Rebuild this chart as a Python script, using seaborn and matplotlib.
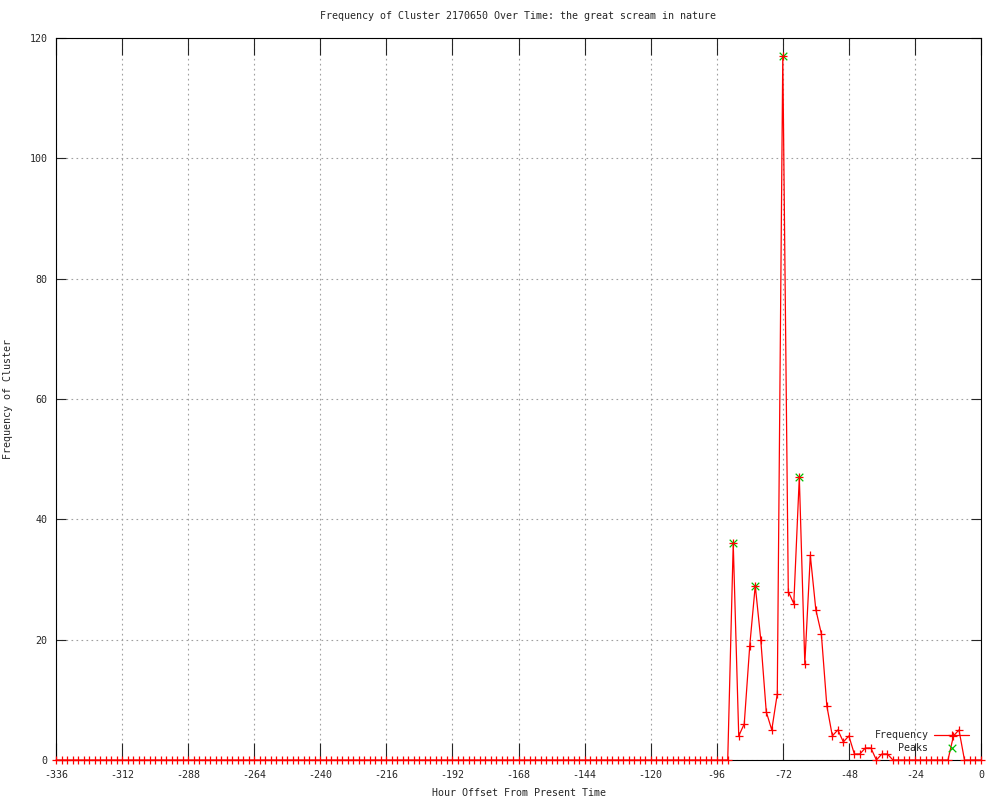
import numpy as np
import pandas as pd
import matplotlib
matplotlib.use('Agg')
import matplotlib.pyplot as plt
import seaborn as sns

# hours from -336 to 0, one point every 2 hours
hours = list(range(-336, 1, 2))

# non-zero frequency values (all other hours are 0)
active_hours = [-90, -88, -86, -84, -82, -80, -78, -76, -74, -72, -70, -68, -66,
                -64, -62, -60, -58, -56, -54, -52, -50, -48, -46, -44, -42, -40,
                -38, -36, -34, -10, -8]
active_freq = [36, 4, 6, 19, 29, 20, 8, 5, 11, 117, 28, 26, 47,
               16, 34, 25, 21, 9, 4, 5, 3, 4, 1, 1, 2, 2,
               0, 1, 1, 4, 5]

peak_hours = [-90, -82, -72, -66]
peak_freq = [36, 29, 117, 47]

lookup = dict(zip(active_hours, active_freq))
freq = [lookup.get(h, 0) for h in hours]
df = pd.DataFrame({'hour': hours, 'freq': freq})
peaks = pd.DataFrame({'hour': peak_hours, 'freq': peak_freq})

sns.set_style('white')
plt.rcParams['font.family'] = ['DejaVu Sans Mono']
plt.rcParams['axes.unicode_minus'] = False
FS = 7.2

fig = plt.figure(figsize=(10, 8), dpi=100)
ax = fig.add_axes([0.056, 0.05, 0.925, 0.9025])

# peaks underneath, frequency line on top
sns.scatterplot(data=peaks, x='hour', y='freq', marker='x', color='#00c000',
                edgecolor='#00c000', s=30, linewidth=0.9, ax=ax, label='Peaks',
                zorder=3, clip_on=False)
sns.lineplot(data=df, x='hour', y='freq', color='red', marker='+',
             markersize=6, markeredgewidth=0.9, markeredgecolor='red',
             linewidth=0.9, ax=ax, label='Frequency', zorder=4, clip_on=False)

ax.set_xlim(-336, 0)
ax.set_ylim(0, 120)
ax.set_xticks(range(-336, 1, 24))
ax.set_yticks(range(0, 121, 20))
ax.grid(True, color='#a0a0a0', linestyle=(0, (1.5, 3)), linewidth=0.8)
ax.tick_params(axis='x', direction='in', length=12, width=0.8, labelsize=FS,
               pad=7, top=True, bottom=True)
ax.tick_params(axis='y', direction='in', length=7, width=0.8, labelsize=FS,
               pad=6, left=True, right=True)
for s in ax.spines.values():
    s.set_color('black')
    s.set_linewidth(0.8)
    s.set_zorder(2.5)

ax.set_title('Frequency of Cluster 2170650 Over Time: the great scream in nature',
             fontsize=FS, pad=14)
ax.set_xlabel('Hour Offset From Present Time', fontsize=FS, labelpad=6)
ax.set_ylabel('Frequency of Cluster', fontsize=FS, labelpad=8)
ax.yaxis.set_label_coords(-0.046, 0.5)

# legend: text right-aligned, sample on the right
handles, labels = ax.get_legend_handles_labels()
order = [labels.index('Frequency'), labels.index('Peaks')]
ax.legend([handles[i] for i in order], [labels[i] for i in order],
          loc='lower right', bbox_to_anchor=(0.995, 0.0), frameon=False,
          markerfirst=False, fontsize=FS, handlelength=3.5,
          handletextpad=0.6, labelspacing=0.25, borderaxespad=0.3)

fig.savefig('out.png', dpi=100)
